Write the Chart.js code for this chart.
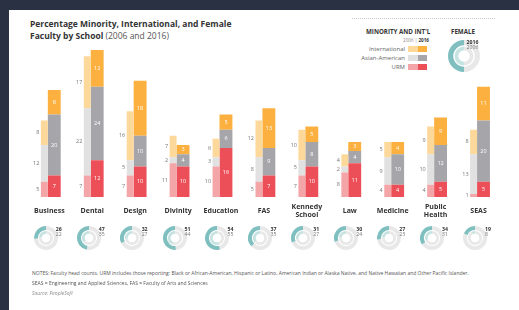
<!DOCTYPE html>
<html>
<head>
<meta charset="utf-8">
<script src="https://cdn.jsdelivr.net/npm/chart.js@4.4.0/dist/chart.umd.min.js"></script>
<style>
html, body { margin: 0; padding: 0; }
body { width: 519px; height: 310px; background: #2a3142; position: relative; overflow: hidden; font-family: "Open Sans", sans-serif; }
#card { position: absolute; left: 9px; top: 10px; width: 510px; height: 300px; background: #fff; }
.abs { position: absolute; white-space: nowrap; }
#title { left: 30px; top: 18px; font-size: 8.5px; line-height: 12px; color: #333; font-weight: 700; }
#title span { font-weight: 400; color: #555; }
#dots { left: 352px; top: 18px; width: 143px; border-top: 1px dotted #c8c8c8; }
.lhead { font-size: 6.2px; font-weight: 700; color: #333; line-height: 8px; }
.lyr { font-size: 4.6px; color: #888; line-height: 6px; }
.lyr b { color: #333; }
.lrow { font-size: 6px; color: #666; line-height: 8px; text-align: right; width: 80px; }
.sw { position: absolute; width: 9.5px; height: 6px; }
.num { font-size: 5.2px; line-height: 5px; }
.num.a { font-weight: 700; color: #333; }
.num.b { color: #777; }
.note { left: 32px; font-size: 5px; color: #555; line-height: 6px; }
#barCanvas { position: absolute; left: 24px; top: 40px; }
</style>
</head>
<body>
<div id="card"></div>
<div id="title" class="abs">Percentage Minority, International, and Female<br>Faculty by School <span>(2006 and 2016)</span></div>
<div id="dots" class="abs"></div>
<div class="abs lhead" style="left:366px;top:28px;">MINORITY AND INT'L</div>
<div class="abs lyr" style="left:403px;top:37px;">2006 | <b>2016</b></div>
<div class="abs lhead" style="left:451px;top:28px;">FEMALE</div>
<div id="legendRows"></div>
<canvas id="barCanvas" width="476" height="194"></canvas>
<div id="donuts"></div>
<div class="abs note" style="top:270px;">NOTES: Faculty head counts. URM includes those reporting: Black or African-American, Hispanic or Latino, American Indian or Alaska Native, and Native Hawaiian and Other Pacific Islander.</div>
<div class="abs note" style="top:280px;">SEAS = Engineering and Applied Sciences, FAS = Faculty of Arts and Sciences</div>
<div class="abs note" style="top:290px;font-style:italic;color:#888;">Source: PeopleSoft</div>
<script>
var schools = ['Business', 'Dental', 'Design', 'Divinity', 'Education', 'FAS', ['Kennedy', 'School'], 'Law', 'Medicine', ['Public', 'Health'], 'SEAS'];

// 2006
var urm2006 = [5, 7, 7, 11, 10, 5, 7, 8, 4, 4, 1];
var asian2006 = [12, 22, 5, 2, 3, 8, 5, 2, 9, 10, 13];
var intl2006 = [8, 17, 16, 7, 6, 12, 10, 4, 5, 9, 8];
// 2016
var urm2016 = [7, 12, 10, 10, 16, 7, 10, 11, 4, 5, 5];
var asian2016 = [20, 24, 10, 4, 6, 9, 8, 4, 10, 12, 20];
var intl2016 = [8, 12, 18, 3, 5, 13, 5, 3, 4, 9, 11];
// female %
var female2016 = [26, 47, 32, 51, 54, 37, 31, 30, 27, 34, 19];
var female2006 = [22, 35, 27, 44, 55, 35, 27, 24, 23, 31, 8];

var legendNames = ['International', 'Asian-American', 'URM'];
var light = ['#fdd89b', '#e1e1e1', '#f4a5a8'];
var dark = ['#fbb03f', '#a6a6aa', '#ec4f57'];
var teal = '#7fbfbf', tealLight = '#c6e3e2', ringGray = '#e8e8e8';

// legend rows
var rowsEl = document.getElementById('legendRows');
var rowY = [45, 54, 63];
legendNames.forEach(function(n, i) {
  var t = document.createElement('div');
  t.className = 'abs lrow';
  t.style.left = '325px';
  t.style.top = rowY[i] + 'px';
  t.textContent = n;
  rowsEl.appendChild(t);
  var s1 = document.createElement('div');
  s1.className = 'sw';
  s1.style.left = '408px'; s1.style.top = (rowY[i] + 1) + 'px'; s1.style.background = light[i];
  rowsEl.appendChild(s1);
  var s2 = document.createElement('div');
  s2.className = 'sw';
  s2.style.left = '417.5px'; s2.style.top = (rowY[i] + 1) + 'px'; s2.style.background = dark[i];
  rowsEl.appendChild(s2);
});

var barLabels = {
  id: 'barLabels',
  afterDatasetsDraw: function(chart) {
    var ctx = chart.ctx;
    ctx.save();
    ctx.font = '5.5px "Open Sans"';
    ctx.textBaseline = 'middle';
    chart.data.datasets.forEach(function(ds, i) {
      var meta = chart.getDatasetMeta(i);
      meta.data.forEach(function(bar, j) {
        var mid = (bar.y + bar.base) / 2;
        if (ds.stack === '2016') {
          ctx.fillStyle = '#fff';
          ctx.textAlign = 'center';
          ctx.fillText(ds.data[j], bar.x, mid);
        } else {
          ctx.fillStyle = '#777';
          ctx.textAlign = 'right';
          ctx.fillText(ds.data[j], bar.x - bar.width / 2 - 1.5, mid);
        }
      });
    });
    ctx.restore();
  }
};

function ds(label, data, color, stack) {
  return {
    label: label, data: data, backgroundColor: color, stack: stack,
    barPercentage: stack === '2006' ? 0.7 : 1.3,
    categoryPercentage: 0.462
  };
}

var barChart = new Chart(document.getElementById('barCanvas'), {
  type: 'bar',
  data: {
    labels: schools,
    datasets: [
      ds('URM 2006', urm2006, light[2], '2006'),
      ds('Asian-American 2006', asian2006, light[1], '2006'),
      ds('International 2006', intl2006, light[0], '2006'),
      ds('URM 2016', urm2016, dark[2], '2016'),
      ds('Asian-American 2016', asian2016, dark[1], '2016'),
      ds('International 2016', intl2016, dark[0], '2016')
    ]
  },
  options: {
    responsive: false,
    animation: false,
    events: [],
    layout: { padding: { top: 4, bottom: 1.6, left: 0, right: 0 } },
    plugins: { legend: { display: false }, tooltip: { enabled: false } },
    scales: {
      x: {
        stacked: true,
        grid: { display: false, drawTicks: false },
        border: { display: false },
        ticks: {
          padding: 10,
          crossAlign: 'center',
          color: '#333',
          font: { family: 'Open Sans', size: 7, weight: 'bold', lineHeight: 1.1 }
        }
      },
      y: { stacked: true, display: false, min: 0, max: 50 }
    }
  },
  plugins: [barLabels]
});

function donut(x, y, size, v16, v06) {
  var c = document.createElement('canvas');
  c.width = size; c.height = size;
  c.style.position = 'absolute';
  c.style.left = (x - size / 2) + 'px';
  c.style.top = (y - size / 2) + 'px';
  document.getElementById('donuts').appendChild(c);
  return new Chart(c, {
    type: 'doughnut',
    data: {
      datasets: [
        { data: [100 - v16, v16], backgroundColor: [ringGray, teal], borderWidth: 0, weight: 4 },
        { data: [100], backgroundColor: ['rgba(0,0,0,0)'], borderWidth: 0, weight: 1 },
        { data: [100 - v06, v06], backgroundColor: [ringGray, tealLight], borderWidth: 0, weight: 2.8 }
      ]
    },
    options: {
      responsive: false,
      animation: false,
      events: [],
      cutout: size * 0.18,
      plugins: { legend: { display: false }, tooltip: { enabled: false } }
    }
  });
}

function addNum(x, y, text, cls) {
  var d = document.createElement('div');
  d.className = 'abs num ' + cls;
  d.style.left = x + 'px';
  d.style.top = y + 'px';
  d.textContent = text;
  document.getElementById('donuts').appendChild(d);
}

var canvasLeft = 24;
schools.forEach(function(s, i) {
  var cx = canvasLeft + barChart.scales.x.getPixelForValue(i);
  donut(cx - 3.5, 237.5, 24, female2016[i], female2006[i]);
  addNum(cx + 6.5, 226.5, female2016[i], 'a');
  addNum(cx + 6.5, 231.5, female2006[i], 'b');
});

// legend donut
donut(464, 56, 32, 50, 50);
addNum(466.5, 40, '2016', 'a');
addNum(466.5, 44.5, '2006', 'b');
</script>
</body>
</html>
